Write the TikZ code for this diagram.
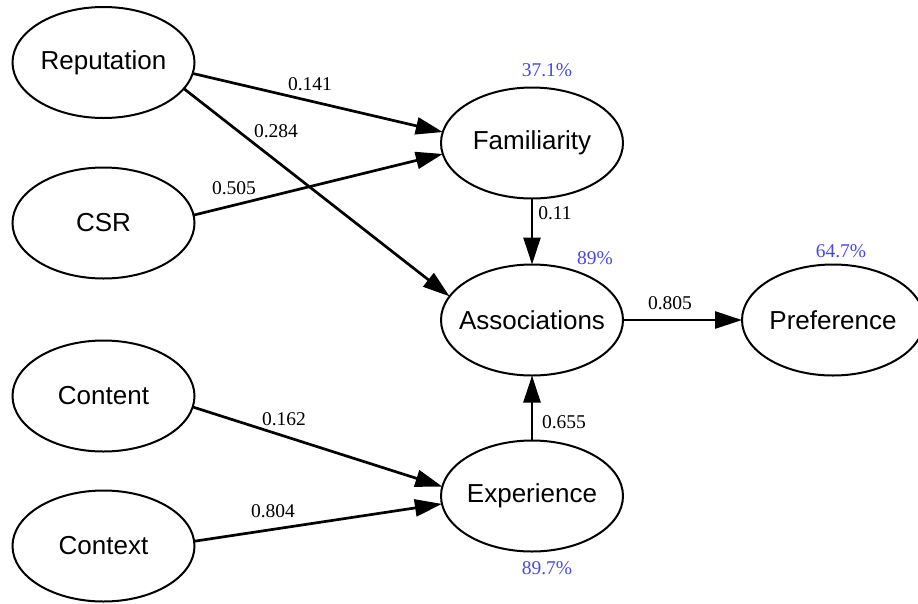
\documentclass[tikz,border=0pt]{standalone}
\usepackage{fontspec}
\setmainfont{Liberation Serif}
\newfontfamily\nodefont{Liberation Sans}
\usetikzlibrary{shapes.geometric,arrows.meta}
\definecolor{rsq}{RGB}{72,72,224}
% construct names are set without width so every ellipse keeps one size
\newcommand{\cname}[1]{\makebox[0pt][c]{#1}}
\begin{document}
\begin{tikzpicture}[x=1pt,y=-1pt,
  construct/.style={draw, ellipse, line width=2pt, inner sep=0pt, outer sep=0pt,
    minimum width=182pt, minimum height=111pt, font=\nodefont\fontsize{26}{30}\selectfont},
  path/.style={line width=2.7pt, -{Triangle[length=27pt,width=17pt]}},
  coef/.style={inner sep=0pt, font=\fontsize{19.5}{22}\selectfont},
  rsquare/.style={inner sep=0pt, text=rsq, font=\fontsize{19.5}{22}\selectfont}]
\useasboundingbox (0,0) rectangle (918,603);

% constructs
\node[construct] (rep)   at (103.5,62.5) {\cname{Reputation}};
\node[construct] (csr)   at (103.5,223)  {\cname{CSR}};
\node[construct] (cont)  at (103.5,396)  {\cname{Content}};
\node[construct] (ctx)   at (103.5,546)  {\cname{Context}};
\node[construct] (fam)   at (532,143)    {\cname{Familiarity}};
\node[construct] (assoc) at (532,320)    {\cname{Associations}};
\node[construct] (exp)   at (532,496)    {\cname{Experience}};
\node[construct] (pref)  at (833,320)    {\cname{Preference}};

% structural paths
\draw[path] (rep.-7)   -- (fam.173);
\draw[path] (csr.5)    -- (fam.187);
\draw[path] (rep.-18)  -- (assoc.164);
\draw[path] (cont.-7)  -- (exp.174);
\draw[path] (ctx.3)    -- (exp.185);
\draw[path] (fam.south) -- (assoc.north);
\draw[path] (exp.north) -- (assoc.south);
\draw[path] (assoc.east) -- (pref.west);

% path coefficients
\node[coef] (c1) at (310,84)  {0.141};
\node[coef] (c2) at (276,131) {0.284};
\node[coef] (c3) at (234,188) {0.505};
\node[coef] (c4) at (555,213) {0.11};
\node[coef] (c5) at (670,303) {0.805};
\node[coef] (c6) at (284,419) {0.162};
\node[coef] (c7) at (273,511) {0.804};
\node[coef] (c8) at (564,422) {0.655};

% explained variance
\node[rsquare] (r1) at (547,70)  {37.1\%};
\node[rsquare] (r2) at (595,258) {89\%};
\node[rsquare] (r3) at (841,251) {64.7\%};
\node[rsquare] (r4) at (547,568) {89.7\%};
\end{tikzpicture}
\end{document}
